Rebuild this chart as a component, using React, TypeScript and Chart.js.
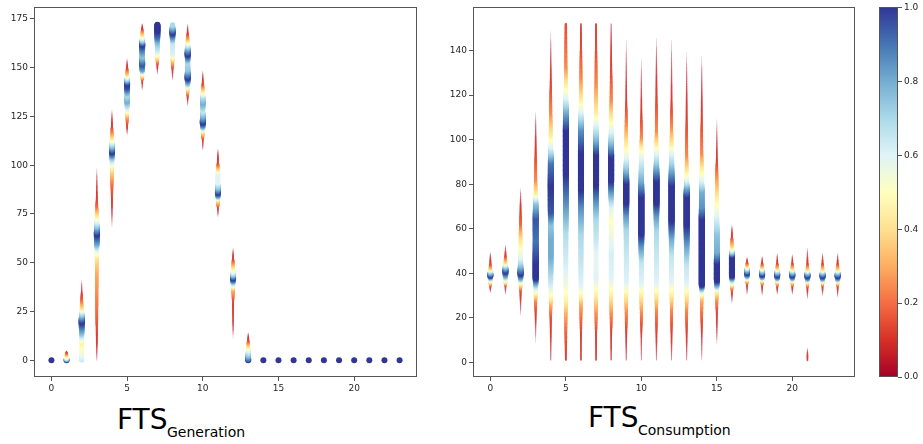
import React, { useEffect, useRef } from 'react';
import { Chart, registerables } from 'chart.js';
Chart.register(...registerables);

// ---- data: hour index and fuzzy membership profiles ([value, membership] knots) ----
const hours: number[] = Array.from({ length: 24 }, (_, i) => i);

const xTicks = [0, 5, 10, 15, 20];
const genYTicks = [0, 25, 50, 75, 100, 125, 150, 175];
const conYTicks = [0, 20, 40, 60, 80, 100, 120, 140];
const cbTicks = [0, 0.2, 0.4, 0.6, 0.8, 1.0];

const genProfiles: number[][][] = [
  [[0, 1]],
  [[0, 1], [1, 0.6], [2.5, 0.4], [4, 0.12], [5, 0]],
  [[0, 0.65], [4, 0.55], [9, 0.45], [14, 0.75], [20, 1], [24, 0.7], [27, 0.4], [31, 0.2], [35, 0.08], [42, 0]],
  [[0, 0.02], [10, 0.1], [25, 0.2], [45, 0.3], [52, 0.4], [56, 0.55], [60, 0.8], [65, 1], [68, 0.8], [72, 0.55], [75, 0.4], [79, 0.2], [84, 0.1], [100, 0]],
  [[67, 0], [78, 0.08], [90, 0.2], [96, 0.35], [100, 0.5], [104, 0.75], [107, 1], [110, 0.75], [113, 0.5], [116, 0.3], [120, 0.12], [129, 0]],
  [[115, 0], [120, 0.1], [124, 0.25], [127, 0.45], [130, 0.65], [133, 0.8], [136, 0.7], [140, 0.95], [142, 1], [145, 0.6], [147, 0.35], [150, 0.12], [155, 0]],
  [[138, 0], [143, 0.1], [146, 0.4], [149, 0.8], [152, 0.95], [156, 0.75], [160, 0.9], [162, 1], [165, 0.6], [167, 0.4], [170, 0.12], [173, 0]],
  [[146, 0], [151, 0.1], [154, 0.3], [156, 0.45], [158, 0.6], [163, 0.75], [166, 0.9], [169, 1], [172, 1]],
  [[143, 0], [149, 0.1], [153, 0.3], [155, 0.45], [157, 0.6], [163, 0.65], [166, 0.85], [168, 1], [170, 0.85], [172, 0.7]],
  [[130, 0], [135, 0.1], [139, 0.4], [142, 0.75], [145, 1], [149, 0.75], [153, 0.7], [157, 1], [160, 0.8], [163, 0.5], [165, 0.3], [168, 0.1], [173, 0]],
  [[107, 0], [113, 0.1], [117, 0.4], [120, 0.8], [122, 1], [125, 0.8], [128, 0.65], [132, 0.8], [135, 0.7], [138, 0.45], [142, 0.12], [149, 0]],
  [[73, 0], [78, 0.1], [82, 0.4], [84, 0.75], [86, 1], [88, 0.8], [91, 0.6], [96, 0.6], [98, 0.4], [101, 0.15], [109, 0]],
  [[10, 0], [20, 0.08], [30, 0.12], [36, 0.3], [39, 0.6], [42, 1], [45, 0.6], [48, 0.4], [52, 0.12], [58, 0]],
  [[0, 1], [2, 0.8], [5, 0.6], [7.5, 0.4], [10, 0.15], [14.5, 0]],
  [[0, 1]], [[0, 1]], [[0, 1]], [[0, 1]], [[0, 1]],
  [[0, 1]], [[0, 1]], [[0, 1]], [[0, 1]], [[0, 1]],
];

const conProfiles: number[][][] = [
  [[31, 0], [34, 0.12], [36, 0.4], [38, 0.75], [39, 1], [40.5, 0.75], [42, 0.4], [44, 0.15], [50, 0]],
  [[30, 0], [34, 0.1], [36, 0.4], [39, 0.8], [41, 1], [43, 0.75], [45, 0.4], [48, 0.12], [53, 0]],
  [[20, 0], [27, 0.07], [32, 0.15], [35, 0.4], [38, 0.8], [40, 1], [43, 0.8], [47, 0.6], [52, 0.5], [56, 0.4], [62, 0.2], [70, 0.1], [79, 0]],
  [[7, 0], [15, 0.05], [22, 0.12], [28, 0.25], [31, 0.45], [34, 0.65], [38, 1], [45, 1], [55, 0.9], [65, 0.95], [72, 0.75], [76, 0.45], [82, 0.25], [95, 0.12], [114, 0]],
  [[1, 0.04], [10, 0.08], [20, 0.15], [26, 0.3], [29, 0.45], [34, 0.6], [40, 0.7], [48, 0.8], [56, 0.8], [62, 0.75], [68, 0.95], [80, 1], [90, 0.9], [97, 0.6], [102, 0.45], [112, 0.25], [128, 0.1], [151, 0]],
  [[1, 0.1], [15, 0.2], [22, 0.3], [28, 0.45], [35, 0.55], [45, 0.62], [58, 0.68], [72, 0.85], [85, 1], [105, 1], [113, 0.8], [119, 0.6], [125, 0.45], [133, 0.25], [145, 0.18], [152, 0.15]],
  [[1, 0.08], [10, 0.1], [20, 0.2], [26, 0.3], [30, 0.45], [35, 0.6], [45, 0.65], [58, 0.7], [70, 0.85], [78, 1], [95, 1], [105, 0.85], [113, 0.6], [118, 0.45], [128, 0.25], [140, 0.15], [152, 0.08]],
  [[1, 0.08], [12, 0.12], [22, 0.25], [31, 0.45], [38, 0.6], [48, 0.58], [56, 0.65], [65, 0.7], [73, 0.85], [80, 1], [94, 1], [100, 0.8], [107, 0.6], [112, 0.45], [125, 0.25], [140, 0.15], [152, 0.1]],
  [[1, 0.06], [12, 0.1], [22, 0.25], [31, 0.45], [38, 0.6], [50, 0.62], [58, 0.55], [64, 0.5], [70, 0.6], [76, 0.8], [82, 1], [93, 1], [98, 0.8], [104, 0.6], [110, 0.45], [118, 0.25], [133, 0.12], [152, 0.04]],
  [[1, 0.04], [12, 0.1], [23, 0.25], [31, 0.45], [36, 0.6], [50, 0.65], [60, 0.7], [67, 0.85], [72, 1], [81, 1], [86, 0.8], [92, 0.6], [98, 0.45], [107, 0.25], [118, 0.1], [148, 0]],
  [[1, 0.03], [12, 0.08], [23, 0.25], [31, 0.45], [36, 0.6], [45, 0.65], [53, 0.85], [58, 1], [75, 1], [82, 0.8], [92, 0.6], [97, 0.45], [101, 0.25], [113, 0.1], [139, 0]],
  [[1, 0.03], [12, 0.1], [24, 0.25], [31, 0.45], [36, 0.6], [50, 0.65], [60, 0.7], [67, 0.85], [72, 1], [82, 1], [88, 0.8], [94, 0.6], [98, 0.45], [104, 0.25], [120, 0.12], [148, 0]],
  [[1, 0.03], [12, 0.1], [24, 0.25], [31, 0.45], [37, 0.6], [48, 0.65], [56, 0.8], [64, 1], [80, 1], [87, 0.8], [94, 0.6], [98, 0.45], [106, 0.25], [118, 0.1], [148, 0]],
  [[1, 0.03], [12, 0.1], [24, 0.25], [31, 0.45], [36, 0.6], [44, 0.65], [52, 0.8], [62, 1], [75, 1], [79, 0.8], [82, 0.6], [86, 0.45], [93, 0.25], [110, 0.12], [142, 0]],
  [[1, 0.02], [12, 0.08], [22, 0.2], [28, 0.3], [30, 0.45], [32, 0.6], [35, 1], [65, 1], [70, 0.85], [77, 0.8], [82, 0.6], [87, 0.45], [94, 0.25], [110, 0.12], [140, 0]],
  [[7, 0], [14, 0.06], [22, 0.12], [28, 0.25], [32, 0.45], [34, 0.7], [37, 1], [45, 1], [50, 0.8], [58, 0.75], [66, 0.6], [74, 0.45], [84, 0.25], [92, 0.1], [111, 0]],
  [[26, 0], [30, 0.08], [33, 0.2], [35, 0.45], [37, 0.7], [39, 1], [48, 1], [50, 0.65], [52, 0.4], [56, 0.15], [62, 0]],
  [[30, 0], [35, 0.12], [37, 0.4], [38.7, 0.75], [40.2, 1], [41.7, 0.75], [43.2, 0.4], [45, 0.12], [47.5, 0]],
  [[29.5, 0], [34.5, 0.12], [36.6, 0.4], [38.1, 0.75], [39.6, 1], [41.1, 0.75], [42.6, 0.4], [44.6, 0.12], [48, 0]],
  [[30, 0], [34, 0.12], [36.2, 0.4], [37.7, 0.75], [39.2, 1], [40.7, 0.75], [42.2, 0.4], [44.5, 0.12], [49.6, 0]],
  [[30, 0], [34, 0.12], [36.2, 0.4], [37.7, 0.75], [39.2, 1], [40.7, 0.75], [42.2, 0.4], [44.5, 0.12], [49, 0]],
  [[0.8, 0.08], [3, 0.1], [7, 0], [28, 0], [33.5, 0.12], [35.9, 0.4], [37.4, 0.75], [38.9, 1], [40.4, 0.75], [41.9, 0.4], [44.5, 0.12], [52, 0]],
  [[29.5, 0], [34, 0.12], [35.9, 0.4], [37.4, 0.75], [38.9, 1], [40.4, 0.75], [41.9, 0.4], [44.5, 0.12], [49.6, 0]],
  [[28.7, 0], [34, 0.12], [35.9, 0.4], [37.4, 0.75], [38.9, 1], [40.4, 0.75], [41.9, 0.4], [44.5, 0.12], [49.6, 0]],
];

// matplotlib RdYlBu colormap stops
const RDYLBU = ['#a50026', '#d73027', '#f46d43', '#fdae61', '#fee090', '#ffffbf', '#e0f3f8', '#abd9e9', '#74add1', '#4575b4', '#313695'];

function hexToRgb(h: string) {
  return [parseInt(h.slice(1, 3), 16), parseInt(h.slice(3, 5), 16), parseInt(h.slice(5, 7), 16)];
}
const STOPS = RDYLBU.map(hexToRgb);
function cmap(m: number) {
  const t = Math.max(0, Math.min(1, m)) * 10;
  const i = Math.min(9, Math.floor(t));
  const f = t - i;
  const a = STOPS[i], b = STOPS[i + 1];
  const c = a.map((v, k) => Math.round(v + (b[k] - v) * f));
  const alpha = Math.min(1, 0.2 + m * 4);
  return `rgba(${c[0]},${c[1]},${c[2]},${alpha.toFixed(3)})`;
}

const STEP = 0.25;
function buildPoints(profiles: number[][][]) {
  const pts: { x: number; y: number; m: number }[] = [];
  profiles.forEach((prof, h) => {
    const x = hours[h];
    if (prof.length === 1) {
      pts.push({ x, y: prof[0][0], m: prof[0][1] });
      return;
    }
    for (let k = 0; k < prof.length - 1; k++) {
      const [y0, m0] = prof[k];
      const [y1, m1] = prof[k + 1];
      const n = Math.max(1, Math.round((y1 - y0) / STEP));
      for (let j = 0; j < n + (k === prof.length - 2 ? 1 : 0); j++) {
        const f = j / n;
        const m = m0 + (m1 - m0) * f;
        if (m < 0.01) continue;
        pts.push({ x, y: y0 + (y1 - y0) * f, m });
      }
    }
  });
  return pts;
}

const TICK_FONT = { family: 'DejaVu Sans', size: 9 };
const TICK_COLOR = '#262626';
const FRAME = '#555555';

const framePlugin = {
  id: 'frame',
  afterDraw(chart: any) {
    const { ctx, chartArea: a } = chart;
    ctx.save();
    ctx.strokeStyle = FRAME;
    ctx.lineWidth = 1;
    ctx.strokeRect(Math.round(a.left) + 0.5, Math.round(a.top) + 0.5, Math.round(a.right - a.left) - 1, Math.round(a.bottom - a.top) - 1);
    ctx.restore();
  },
};

function axis(min: number, max: number, ticks: number[], fit: (s: any) => void, extra: any = {}) {
  return {
    type: 'linear',
    min,
    max,
    afterBuildTicks: (s: any) => { s.ticks = ticks.map((v) => ({ value: v })); },
    afterFit: fit,
    grid: { drawOnChartArea: false, drawTicks: true, tickLength: 4, color: FRAME },
    border: { display: false },
    ticks: { font: TICK_FONT, color: TICK_COLOR, padding: 2, maxRotation: 0, autoSkip: false },
    ...extra,
  };
}

function makeScatter(canvas: HTMLCanvasElement, profiles: number[][][], yMin: number, yMax: number, yTicks: number[], yWidth: number, padRight: number) {
  const pts = buildPoints(profiles);
  return new Chart(canvas, {
    type: 'scatter',
    data: {
      datasets: [{
        data: pts,
        pointRadius: pts.map((p) => 3.0 * Math.sqrt(p.m)),
        pointBackgroundColor: pts.map((p) => cmap(p.m)),
        pointBorderWidth: 0,
        pointHoverRadius: 0,
      } as any],
    },
    options: {
      animation: false,
      responsive: false,
      events: [],
      layout: { padding: { top: 7, right: padRight, left: 0, bottom: 0 } },
      plugins: { legend: { display: false }, tooltip: { enabled: false } },
      scales: {
        x: axis(-1.15, 24.15, xTicks, (s: any) => { s.height = 23; }),
        y: axis(yMin, yMax, yTicks, (s: any) => { s.width = yWidth; }),
      } as any,
    },
    plugins: [framePlugin],
  });
}

function makeColorbar(canvas: HTMLCanvasElement) {
  return new Chart(canvas, {
    type: 'bar',
    data: {
      labels: ['m'],
      datasets: [{
        data: [[0, 1]] as any,
        barPercentage: 1,
        categoryPercentage: 1,
        borderWidth: 0,
        backgroundColor: (c: any) => {
          const a = c.chart.chartArea;
          if (!a) return RDYLBU[5];
          const g = c.chart.ctx.createLinearGradient(0, a.bottom, 0, a.top);
          RDYLBU.forEach((col, i) => g.addColorStop(i / 10, col));
          return g;
        },
      }],
    },
    options: {
      animation: false,
      responsive: false,
      events: [],
      layout: { padding: { top: 7, left: 9, right: 0, bottom: 23 } },
      plugins: { legend: { display: false }, tooltip: { enabled: false } },
      scales: {
        x: { display: false },
        y: axis(0, 1, cbTicks, (s: any) => { s.width = 25; }, {
          position: 'right',
          ticks: { font: TICK_FONT, color: TICK_COLOR, padding: 2, callback: (v: any) => Number(v).toFixed(1) },
        }),
      } as any,
    },
    plugins: [framePlugin],
  });
}

export default function App() {
  const genRef = useRef<HTMLCanvasElement>(null);
  const conRef = useRef<HTMLCanvasElement>(null);
  const cbRef = useRef<HTMLCanvasElement>(null);

  useEffect(() => {
    const c1 = makeScatter(genRef.current!, genProfiles, -8.6, 180.9, genYTicks, 34, 13);
    const c2 = makeScatter(conRef.current!, conProfiles, -6.6, 159.4, conYTicks, 33, 15);
    const c3 = makeColorbar(cbRef.current!);
    return () => { c1.destroy(); c2.destroy(); c3.destroy(); };
  }, []);

  const big: React.CSSProperties = { position: 'absolute', fontFamily: 'DejaVu Sans', fontSize: 28, lineHeight: '28px', color: '#000', whiteSpace: 'nowrap' };
  const sub: React.CSSProperties = { position: 'absolute', fontFamily: 'DejaVu Sans', fontSize: 14, lineHeight: '14px', color: '#000', whiteSpace: 'nowrap' };

  return (
    <div style={{ position: 'fixed', left: 0, top: 0, width: 923, height: 444, background: '#fff', overflow: 'hidden' }}>
      <canvas ref={genRef} width={430} height={400} style={{ position: 'absolute', left: 0, top: 0, width: 430, height: 400 }} />
      <canvas ref={conRef} width={430} height={400} style={{ position: 'absolute', left: 440, top: 0, width: 430, height: 400 }} />
      <canvas ref={cbRef} width={53} height={400} style={{ position: 'absolute', left: 870, top: 0, width: 53, height: 400 }} />
      <div style={{ ...big, left: 117, top: 406 }}>FTS</div>
      <div style={{ ...sub, left: 167, top: 425 }}>Generation</div>
      <div style={{ ...big, left: 588, top: 404 }}>FTS</div>
      <div style={{ ...sub, left: 638, top: 423 }}>Consumption</div>
    </div>
  );
}
